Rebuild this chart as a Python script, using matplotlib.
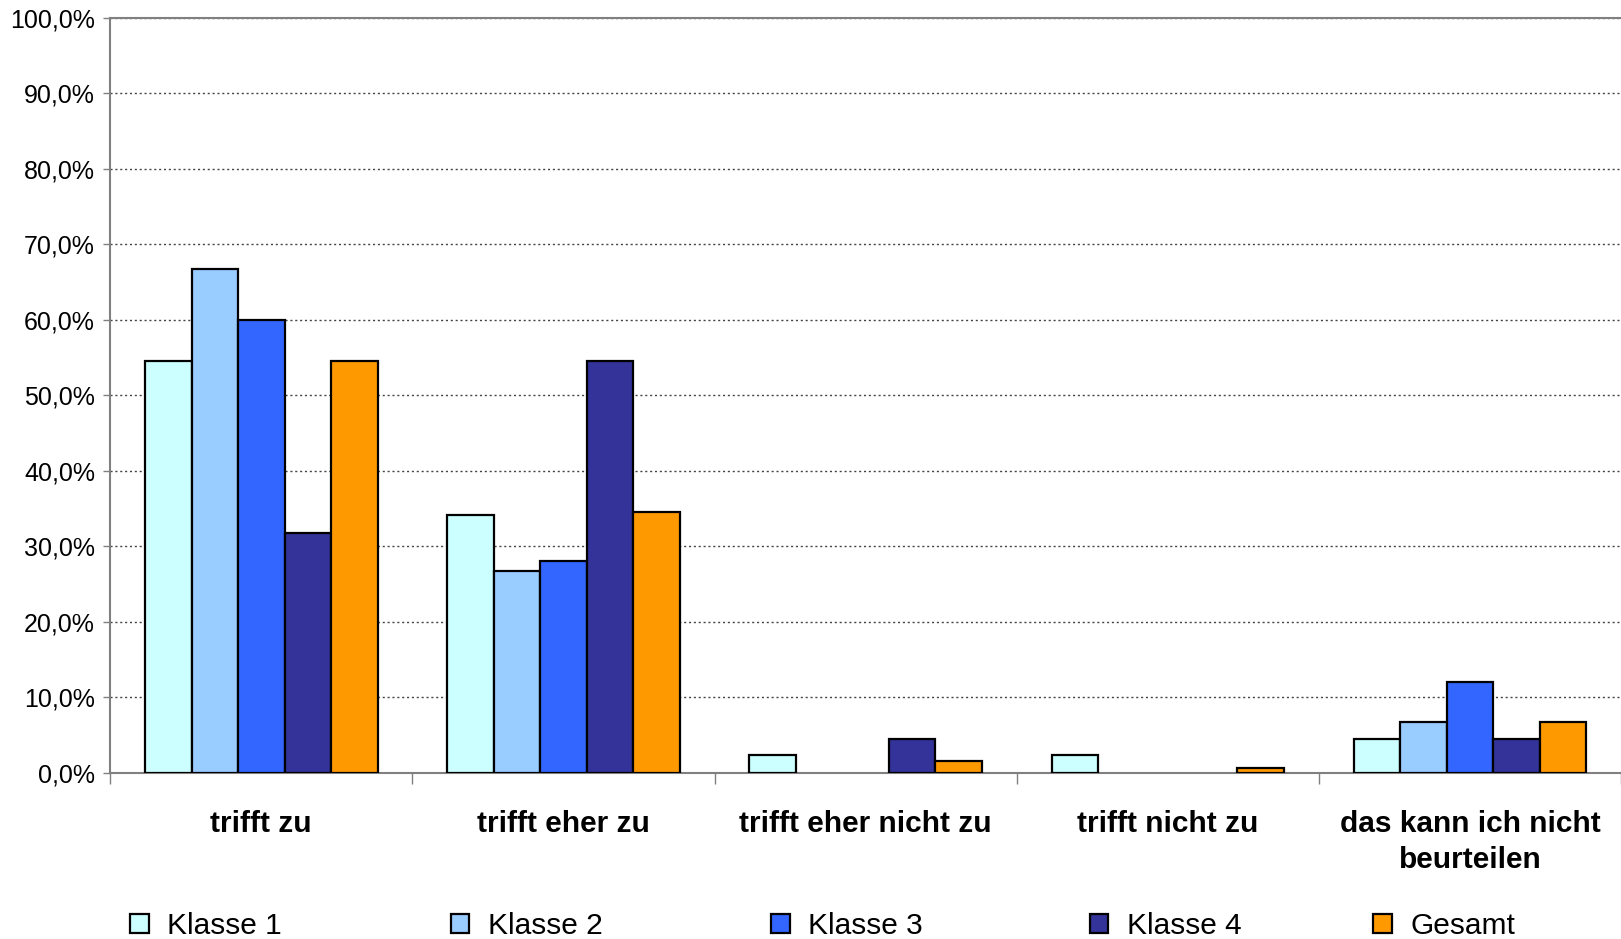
import numpy as np
import matplotlib
matplotlib.use("Agg")
import matplotlib.pyplot as plt
from matplotlib.ticker import FixedLocator, FuncFormatter
from matplotlib.patches import Patch

plt.rcParams['font.family'] = ['Liberation Sans', 'DejaVu Sans']

# data (percent)
categories = ["trifft zu", "trifft eher zu", "trifft eher nicht zu",
              "trifft nicht zu", "das kann ich nicht\nbeurteilen"]
series_names = ["Klasse 1", "Klasse 2", "Klasse 3", "Klasse 4", "Gesamt"]
klasse1 = [54.5, 34.1, 2.3, 2.3, 4.5]
klasse2 = [66.7, 26.7, 0.0, 0.0, 6.7]
klasse3 = [60.0, 28.0, 0.0, 0.0, 12.0]
klasse4 = [31.8, 54.5, 4.5, 0.0, 4.5]
gesamt = [54.5, 34.6, 1.5, 0.6, 6.7]
colors = ["#CCFFFF", "#99CCFF", "#3366FF", "#333399", "#FF9900"]

series = [klasse1, klasse2, klasse3, klasse4, gesamt]

fig = plt.figure(figsize=(16.21, 9.39), dpi=100)
ax = fig.add_axes([0.068, 0.177, 0.932, 0.804])

n = len(series)
x = np.arange(len(categories))
w = 1.0 / (n + 1.5)
for i, (vals, name, col) in enumerate(zip(series, series_names, colors)):
    xs = x + (i - (n - 1) / 2) * w
    lws = [1.6 if v > 0 else 0 for v in vals]
    ax.bar(xs, vals, width=w, color=col, edgecolor="black", linewidth=lws,
           label=name, zorder=3)

ax.set_xlim(-0.5, len(categories) - 0.5)
ax.set_ylim(0, 100)

ax.yaxis.set_major_locator(FixedLocator(np.arange(0, 101, 10)))
ax.yaxis.set_major_formatter(FuncFormatter(lambda v, p: f"{v:.1f}%".replace(".", ",")))
ax.tick_params(axis="y", labelsize=18, length=5, width=1, color="#808080", pad=6)
ax.grid(axis="y", linestyle=(0, (1.5, 2)), color="#444444", linewidth=1, zorder=0)

# category boundaries as major ticks, labels on minor ticks at the centres
ax.xaxis.set_major_locator(FixedLocator(np.arange(-0.5, len(categories), 1.0)))
ax.xaxis.set_major_formatter(FuncFormatter(lambda v, p: ""))
ax.xaxis.set_minor_locator(FixedLocator(x))
ax.set_xticklabels(categories, minor=True, fontsize=21.5, fontweight="bold",
                   linespacing=1.35)
ax.tick_params(axis="x", which="major", length=8, width=1, color="#808080")
ax.tick_params(axis="x", which="minor", length=0, pad=27)

for s in ["left", "bottom", "top"]:
    ax.spines[s].set_color("#808080")
    ax.spines[s].set_linewidth(1.5)
ax.spines["right"].set_visible(False)

# one legend entry per slot, spaced like the reference
legend_x = [0.0803, 0.2782, 0.4757, 0.6724, 0.8470]
for name, col, lx in zip(series_names, colors, legend_x):
    h = Patch(facecolor=col, edgecolor="black", linewidth=1.6)
    fig.legend(handles=[h], labels=[name], loc="center left",
               bbox_to_anchor=(lx, 0.014), frameon=False, fontsize=21.5,
               handlelength=0.62, handleheight=0.62, handletextpad=0.62,
               borderaxespad=0, borderpad=0)

fig.savefig("out.png", dpi=100)
